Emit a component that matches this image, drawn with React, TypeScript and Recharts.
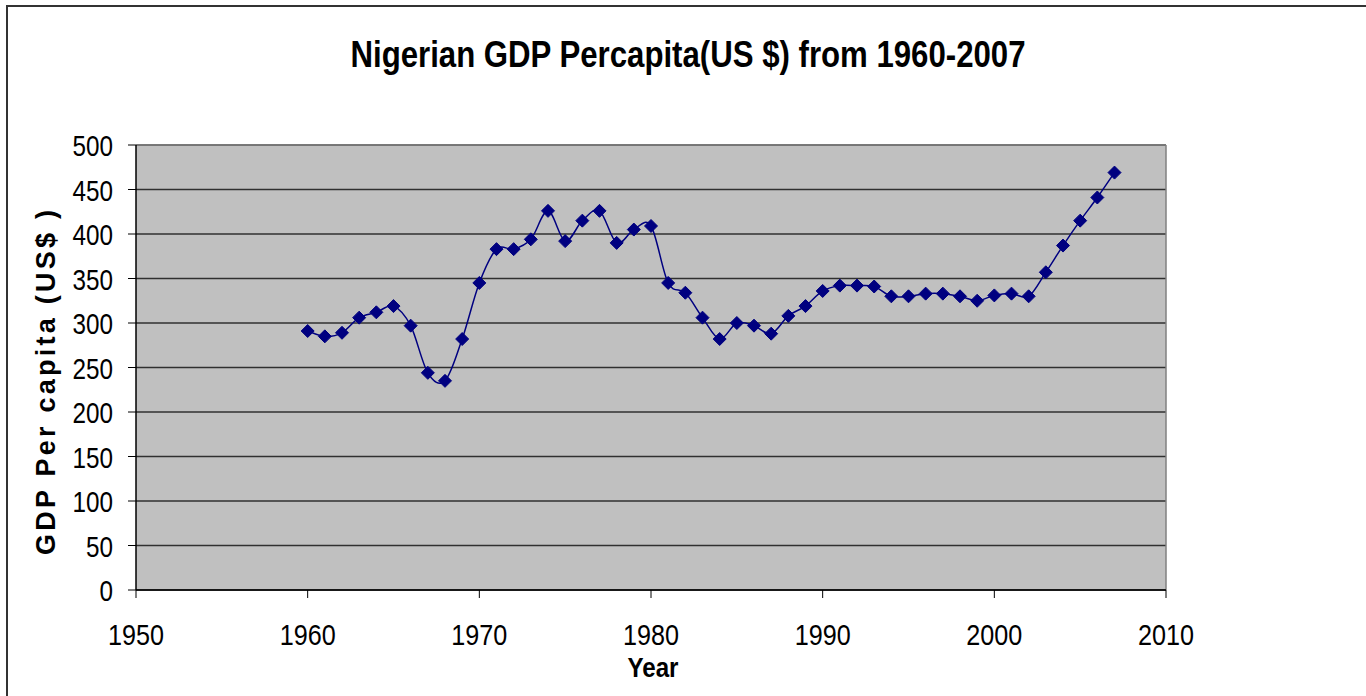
import React from "react";
import {
  LineChart,
  Line,
  XAxis,
  YAxis,
  CartesianGrid,
  ReferenceLine,
  Label,
} from "recharts";

const years = [
  1960, 1961, 1962, 1963, 1964, 1965, 1966, 1967, 1968, 1969,
  1970, 1971, 1972, 1973, 1974, 1975, 1976, 1977, 1978, 1979,
  1980, 1981, 1982, 1983, 1984, 1985, 1986, 1987, 1988, 1989,
  1990, 1991, 1992, 1993, 1994, 1995, 1996, 1997, 1998, 1999,
  2000, 2001, 2002, 2003, 2004, 2005, 2006, 2007,
];

const gdpPerCapita = [
  291, 285, 289, 306, 312, 319, 297, 244, 235, 282,
  345, 383, 383, 394, 426, 392, 415, 426, 390, 405,
  409, 345, 334, 306, 282, 300, 297, 288, 308, 319,
  336, 342, 342, 341, 330, 330, 333, 333, 330, 325,
  331, 333, 330, 357, 387, 415, 441, 469,
];

const xTicks = [1950, 1960, 1970, 1980, 1990, 2000, 2010];
const yTicks = [0, 50, 100, 150, 200, 250, 300, 350, 400, 450, 500];

const titleText = "Nigerian GDP Percapita(US $) from 1960-2007";
const xLabelText = "Year";
const yLabelText = "GDP Per capita (US$ )";

const data = years.map((y, i) => ({ year: y, gdp: gdpPerCapita[i] }));

const FONT = "'Liberation Sans', Arial, Helvetica, sans-serif";

// Excel-like smoothed line (Catmull-Rom style bezier)
const excelCurve = (context: any) => {
  let xs: number[] = [];
  let ys: number[] = [];
  return {
    areaStart() {},
    areaEnd() {},
    lineStart() {
      xs = [];
      ys = [];
    },
    point(x: number, y: number) {
      xs.push(+x);
      ys.push(+y);
    },
    lineEnd() {
      const n = xs.length;
      if (!n) return;
      context.moveTo(xs[0], ys[0]);
      for (let i = 0; i < n - 1; i++) {
        const i0 = Math.max(i - 1, 0);
        const i3 = Math.min(i + 2, n - 1);
        const c1x = xs[i] + (xs[i + 1] - xs[i0]) / 6;
        const c1y = ys[i] + (ys[i + 1] - ys[i0]) / 6;
        const c2x = xs[i + 1] - (xs[i3] - xs[i]) / 6;
        const c2y = ys[i + 1] - (ys[i3] - ys[i]) / 6;
        context.bezierCurveTo(c1x, c1y, c2x, c2y, xs[i + 1], ys[i + 1]);
      }
    },
  };
};

const YTick = (props: any) => {
  const { x, y, payload } = props;
  const s = String(payload.value);
  return (
    <text
      x={x}
      y={y + 11}
      textAnchor="end"
      fontFamily={FONT}
      fontSize={30}
      fill="#000"
      textLength={s.length * 13.5}
      lengthAdjust="spacingAndGlyphs"
    >
      {s}
    </text>
  );
};

const XTick = (props: any) => {
  const { x, y, payload } = props;
  const s = String(payload.value);
  return (
    <text
      x={x}
      y={y + 47}
      textAnchor="middle"
      fontFamily={FONT}
      fontSize={30}
      fill="#000"
      textLength={s.length * 14}
      lengthAdjust="spacingAndGlyphs"
    >
      {s}
    </text>
  );
};

const Diamond = (props: any) => {
  const { cx, cy, index } = props;
  if (cx == null || cy == null) return <g key={`d${index}`} />;
  const r = 6.5;
  return (
    <polygon
      key={`d${index}`}
      points={`${cx},${cy - r} ${cx + r},${cy} ${cx},${cy + r} ${cx - r},${cy}`}
      fill="#000080"
      stroke="#000080"
      strokeWidth={1}
    />
  );
};

export default function App() {
  return (
    <div style={{ position: "absolute", left: 0, top: 0, width: 1366, height: 696, background: "#fff" }}>
      <div
        style={{
          position: "absolute",
          left: 6,
          top: 5,
          width: 1360,
          height: 691,
          boxSizing: "border-box",
          borderTop: "2px solid #333",
          borderLeft: "2px solid #333",
        }}
      />
      <svg
        width={1366}
        height={100}
        style={{ position: "absolute", left: 0, top: 0 }}
      >
        <text
          x={688}
          y={67}
          textAnchor="middle"
          fontFamily={FONT}
          fontWeight="bold"
          fontSize={37}
          fill="#000"
          textLength={675}
          lengthAdjust="spacingAndGlyphs"
        >
          {titleText}
        </text>
      </svg>
      <div style={{ position: "absolute", left: 0, top: 0 }}>
        <LineChart
          width={1366}
          height={696}
          data={data}
          margin={{ top: 145, right: 200, bottom: 0, left: 0 }}
        >
          <CartesianGrid
            vertical={false}
            stroke="#303030"
            strokeWidth={1.5}
            fill="#C0C0C0"
            fillOpacity={1}
          />
          <ReferenceLine y={500} stroke="#808080" strokeWidth={1.5} />
          <ReferenceLine x={2010} stroke="#808080" strokeWidth={1.5} />
          <XAxis
            dataKey="year"
            type="number"
            domain={[1950, 2010]}
            ticks={xTicks}
            height={106}
            axisLine={{ stroke: "#000", strokeWidth: 1.5 }}
            tickLine={{ stroke: "#000", strokeWidth: 1 }}
            tickSize={8}
            tickMargin={0}
            tick={<XTick />}
            interval={0}
            allowDataOverflow
          >
            <Label
              content={(p: any) => {
                const vb = p.viewBox || {};
                const cx = vb.x + vb.width / 2;
                return (
                  <text
                    x={cx + 2}
                    y={677}
                    textAnchor="middle"
                    fontFamily={FONT}
                    fontWeight="bold"
                    fontSize={27}
                    fill="#000"
                    textLength={51}
                    lengthAdjust="spacingAndGlyphs"
                  >
                    {xLabelText}
                  </text>
                );
              }}
            />
          </XAxis>
          <YAxis
            type="number"
            domain={[0, 500]}
            ticks={yTicks}
            width={136}
            axisLine={{ stroke: "#000", strokeWidth: 1.5 }}
            tickLine={{ stroke: "#000", strokeWidth: 1 }}
            tickSize={8}
            tickMargin={15}
            tick={<YTick />}
            interval={0}
          >
            <Label
              content={(p: any) => {
                const vb = p.viewBox || {};
                const cy = vb.y + vb.height / 2 + 15;
                return (
                  <text
                    x={55}
                    y={cy}
                    transform={`rotate(-90 55 ${cy})`}
                    textAnchor="middle"
                    fontFamily={FONT}
                    fontWeight="bold"
                    fontSize={27}
                    fill="#000"
                    textLength={345}
                    lengthAdjust="spacing"
                  >
                    {yLabelText}
                  </text>
                );
              }}
            />
          </YAxis>
          <Line
            dataKey="gdp"
            type={excelCurve as any}
            stroke="#000080"
            strokeWidth={1.5}
            dot={Diamond}
            activeDot={false}
            isAnimationActive={false}
          />
        </LineChart>
      </div>
    </div>
  );
}
